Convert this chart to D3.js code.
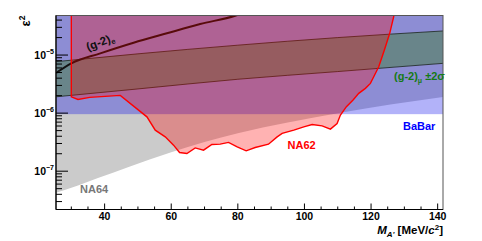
<!DOCTYPE html>
<html lang="en">
<head>
<meta charset="UTF-8" />
<title>Dark photon limits</title>
<script src="https://cdn.jsdelivr.net/npm/d3@7"></script>
<style>
  body { margin: 0; background: #fff; }
  text { font-family: "Liberation Sans", Arial, sans-serif; font-weight: bold; }
</style>
</head>
<body>
<svg id="svg" width="482" height="241"></svg>
<script>
// NA64 lower edge of the excluded region (mass in MeV, eps^2)
const na64Mass = [25.4, 32, 38, 47, 60, 80, 110, 141.6];
const na64Eps = [4.25e-8, 5.7e-8, 7.6e-8, 1.17e-7, 2.13e-7, 4.5e-7, 1.0e-6, 1.9e-6];

// BaBar flat limit
const babarEps = 9.6e-7;

// NA62 outline
const na62Mass = [30, 30, 32, 35.5, 44.7, 52.7, 55.2, 58.2, 60.7, 62.5, 64.7, 67.2, 69.7, 72.2,
  74.7, 77.2, 79.8, 82.5, 85.2, 89.2, 91.8, 93.3, 96.8, 99.8, 102.3, 105.3, 107.8, 109.8,
  110.8, 112.6, 114.6, 116.3, 118.3, 119.8, 120.8, 122.3, 124.0, 125.6, 126.8, 127.3];
const na62Eps = [1e-4, 1.91e-6, 1.72e-6, 1.87e-6, 2.02e-6, 8.63e-7, 5.09e-7, 3.90e-7, 2.81e-7,
  2.10e-7, 2.02e-7, 2.52e-7, 2.30e-7, 2.88e-7, 2.92e-7, 3.13e-7, 2.62e-7, 2.24e-7, 2.56e-7,
  2.92e-7, 3.90e-7, 4.47e-7, 5.09e-7, 5.81e-7, 6.38e-7, 6.04e-7, 5.30e-7, 6.64e-7, 9.25e-7,
  1.29e-6, 1.68e-6, 2.19e-6, 2.67e-6, 3.25e-6, 4.23e-6, 6.29e-6, 1.22e-5, 2.37e-5, 4.57e-5, 1e-4];

// (g-2)_mu +-2 sigma band
const gmMass = [25.4, 50, 80, 110, 141.6];
const gmHigh = [7.7e-6, 1.05e-5, 1.48e-5, 2.0e-5, 2.6e-5];
const gmLow = [1.91e-6, 2.61e-6, 3.83e-6, 5.2e-6, 7.2e-6];

// (g-2)_e line
const geMass = [25.4, 30, 38.7, 48.7, 58.7, 68.7, 79.2, 82];
const geEps = [4.9e-6, 7.19e-6, 1.07e-5, 1.63e-5, 2.37e-5, 3.42e-5, 4.76e-5, 5.4e-5];

const xTicks = [40, 60, 80, 100, 120, 140];
const yTicks = [-7, -6, -5];

const L = 56, R = 443, T = 15.5, B = 209.5;
const x = d3.scaleLinear().domain([25.4, 141.6]).range([L, R]);
const y = d3.scaleLog().domain([2.19e-8, 4.8e-5]).range([B, T]);
const TOP = 1e-4;

const svg = d3.select("#svg");
svg.append("defs").append("clipPath").attr("id", "clip")
  .append("rect").attr("x", L).attr("y", T).attr("width", R - L).attr("height", B - T);

const g = svg.append("g").attr("clip-path", "url(#clip)");

const pts = (ms, es) => ms.map((m, i) => [x(m), y(es[i])]);

// NA64
const na64Pts = pts(na64Mass, na64Eps);
g.append("path")
  .attr("d", d3.line().curve(d3.curveMonotoneX)(na64Pts)
    + `L${x(141.6)},${y(TOP)}L${x(25.4)},${y(TOP)}Z`)
  .attr("fill", "#cbcbcb");

// BaBar
g.append("rect")
  .attr("x", L).attr("y", y(TOP))
  .attr("width", R - L).attr("height", y(babarEps) - y(TOP))
  .attr("fill", "rgb(0,0,235)").attr("fill-opacity", 0.3);

// (g-2)mu band
const band = gmMass.map((m, i) => ({ m: m, lo: gmLow[i], hi: gmHigh[i] }));
g.append("path")
  .datum(band)
  .attr("d", d3.area().curve(d3.curveMonotoneX)
    .x(d => x(d.m)).y0(d => y(d.lo)).y1(d => y(d.hi)))
  .attr("fill", "rgb(40,120,0)").attr("fill-opacity", 0.35);
[gmLow, gmHigh].forEach(arr => {
  g.append("path")
    .attr("d", d3.line().curve(d3.curveMonotoneX)(pts(gmMass, arr)))
    .attr("fill", "none").attr("stroke", "#1b261b").attr("stroke-width", 0.8);
});

// (g-2)e
g.append("path")
  .attr("d", d3.line().curve(d3.curveMonotoneX)(pts(geMass, geEps)))
  .attr("fill", "none").attr("stroke", "#111").attr("stroke-width", 2);

// NA62
const na62Pts = pts(na62Mass, na62Eps);
g.append("path")
  .attr("d", d3.line()(na62Pts) + "Z")
  .attr("fill", "rgb(255,0,0)").attr("fill-opacity", 0.3);
g.append("path")
  .attr("d", d3.line()(na62Pts))
  .attr("fill", "none").attr("stroke", "#ff0000").attr("stroke-width", 1.4);

// frame
svg.append("rect")
  .attr("x", L).attr("y", T).attr("width", R - L).attr("height", B - T)
  .attr("fill", "none").attr("stroke", "#555").attr("stroke-width", 1);

// x axis
const ax = svg.append("g");
ax.append("line").attr("x1", L).attr("x2", R).attr("y1", B).attr("y2", B)
  .attr("stroke", "#000").attr("stroke-width", 1.2);
d3.range(30, 141, 5).forEach(v => {
  const major = xTicks.includes(v);
  ax.append("line")
    .attr("x1", x(v)).attr("x2", x(v))
    .attr("y1", B).attr("y2", B - (major ? 6 : 3))
    .attr("stroke", "#000").attr("stroke-width", 1);
});
ax.selectAll("text.xt").data(xTicks).enter().append("text")
  .attr("class", "xt")
  .attr("x", d => x(d)).attr("y", 219.5)
  .attr("text-anchor", "middle").attr("font-size", 10.5)
  .text(d => d);

const xt = svg.append("text")
  .attr("x", R).attr("y", 234).attr("text-anchor", "end").attr("font-size", 11.5);
xt.append("tspan").attr("font-style", "italic").text("M");
xt.append("tspan").attr("font-size", 8).attr("font-style", "italic").attr("dy", 2.5).text("A'");
xt.append("tspan").attr("dy", -2.5).text(" [MeV/");
xt.append("tspan").attr("font-style", "italic").text("c");
xt.append("tspan").attr("font-size", 8).attr("dy", -4).text("2");
xt.append("tspan").attr("dy", 4).text("]");

// y axis
const ay = svg.append("g");
ay.append("line").attr("x1", L).attr("x2", L).attr("y1", T).attr("y2", B)
  .attr("stroke", "#000").attr("stroke-width", 1.2);
const [y0, y1] = y.domain();
for (let e = -8; e <= -5; e++) {
  for (let k = 1; k <= 9; k++) {
    const v = k * Math.pow(10, e);
    if (v < y0 || v > y1) continue;
    ay.append("line")
      .attr("x1", L).attr("x2", L + (k === 1 ? 12 : 6))
      .attr("y1", y(v)).attr("y2", y(v))
      .attr("stroke", "#000").attr("stroke-width", 1);
  }
}
yTicks.forEach(e => {
  const t = ay.append("text")
    .attr("x", 54).attr("y", y(Math.pow(10, e)) + 4)
    .attr("text-anchor", "end").attr("font-size", 10.5);
  t.append("tspan").text("10");
  t.append("tspan").attr("font-size", 7).attr("dy", -5).text("\u2212" + (-e));
});

const yt = svg.append("text")
  .attr("transform", `translate(30,${T}) rotate(-90)`)
  .attr("text-anchor", "end").attr("font-size", 13).attr("font-weight", "normal");
yt.append("tspan").text("\u03b5");
yt.append("tspan").attr("font-size", 8.5).attr("dy", -5).text("2");

// labels
const ge = svg.append("text")
  .attr("transform", "translate(88,51) rotate(-21)")
  .attr("font-size", 11.5).attr("fill", "#111");
ge.append("tspan").text("(g-2)");
ge.append("tspan").attr("font-size", 7.5).attr("dy", 2.5).text("e");

const gm = svg.append("text")
  .attr("x", 394).attr("y", 80).attr("font-size", 11).attr("fill", "#157a15");
gm.append("tspan").text("(g-2)");
gm.append("tspan").attr("font-size", 7).attr("dy", 3).text("\u03bc");
gm.append("tspan").attr("dy", -3).text(" \u00b12\u03c3");

svg.append("text").attr("x", 403).attr("y", 130).attr("font-size", 11)
  .attr("fill", "#0000ff").text("BaBar");
svg.append("text").attr("x", 287.5).attr("y", 149).attr("font-size", 11)
  .attr("fill", "#ff0000").text("NA62");
svg.append("text").attr("x", 80).attr("y", 193).attr("font-size", 11)
  .attr("fill", "#777").text("NA64");
</script>
</body>
</html>
